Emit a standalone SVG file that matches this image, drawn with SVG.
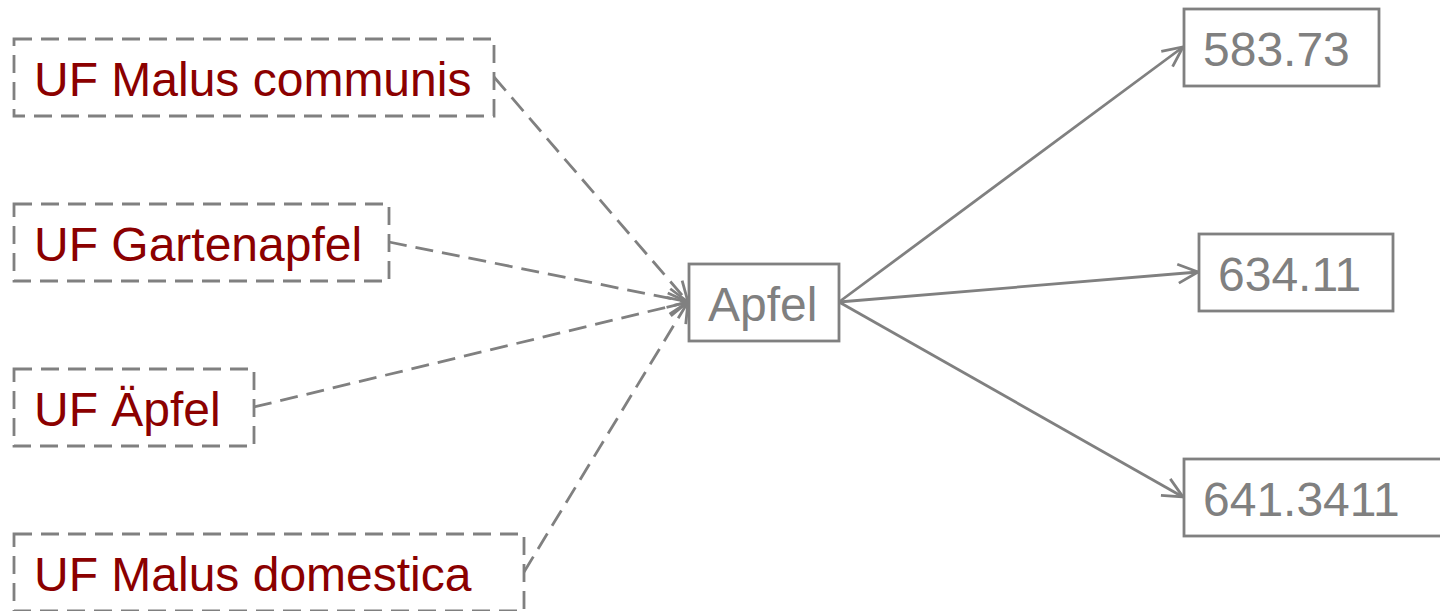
<svg xmlns="http://www.w3.org/2000/svg" width="1440" height="611" viewBox="0 0 1440 611">
<style>
.box{fill:#fff;stroke:#808080;stroke-width:2.8}
.dbox{fill:#fff;stroke:#808080;stroke-width:2.8;stroke-dasharray:18 9}
.uf{font-family:"Liberation Sans",Arial,sans-serif;font-size:48px;fill:#8b0000}
.gt{font-family:"Liberation Sans",Arial,sans-serif;font-size:48px;fill:#808080}
.c{fill:none;stroke:#808080;stroke-width:2.8}
.d{stroke-dasharray:18 9}
</style>
<defs>
<marker id="ah" viewBox="0 0 22 22" refX="21" refY="11" markerWidth="22" markerHeight="22" markerUnits="userSpaceOnUse" orient="auto">
<path d="M1,1.5 L21,11 L1,20.5" fill="none" stroke="#808080" stroke-width="2.8"/>
</marker>
</defs>
<g id="connectors">
<line class="c d" x1="494" y1="77" x2="688" y2="302" marker-end="url(#ah)"/>
<line class="c d" x1="389" y1="242" x2="688" y2="302" marker-end="url(#ah)"/>
<line class="c d" x1="254" y1="407" x2="688" y2="302" marker-end="url(#ah)"/>
<line class="c d" x1="524" y1="572" x2="688" y2="302" marker-end="url(#ah)"/>
<line class="c" x1="839" y1="302" x2="1183" y2="47" marker-end="url(#ah)"/>
<line class="c" x1="839" y1="302" x2="1198" y2="272" marker-end="url(#ah)"/>
<line class="c" x1="839" y1="302" x2="1183" y2="497" marker-end="url(#ah)"/>
</g>
<g id="n1"><rect class="dbox" x="14" y="39" width="480" height="77"/><text class="uf" x="34" y="96">UF Malus communis</text></g>
<g id="n2"><rect class="dbox" x="14" y="204" width="375" height="77"/><text class="uf" x="34" y="261">UF Gartenapfel</text></g>
<g id="n3"><rect class="dbox" x="14" y="369" width="240" height="77"/><text class="uf" x="34" y="426">UF Äpfel</text></g>
<g id="n4"><rect class="dbox" x="14" y="534" width="510" height="77"/><text class="uf" x="34" y="591">UF Malus domestica</text></g>
<g id="apfel"><rect class="box" x="689" y="264" width="150" height="77"/><text class="gt" x="708" y="321">Apfel</text></g>
<g id="v1"><rect class="box" x="1184" y="9" width="195" height="77"/><text class="gt" x="1203" y="66">583.73</text></g>
<g id="v2"><rect class="box" x="1199" y="234" width="194" height="77"/><text class="gt" x="1218" y="291">634.11</text></g>
<g id="v3"><rect class="box" x="1184" y="459" width="270" height="77"/><text class="gt" x="1203" y="516">641.3411</text></g>
</svg>
